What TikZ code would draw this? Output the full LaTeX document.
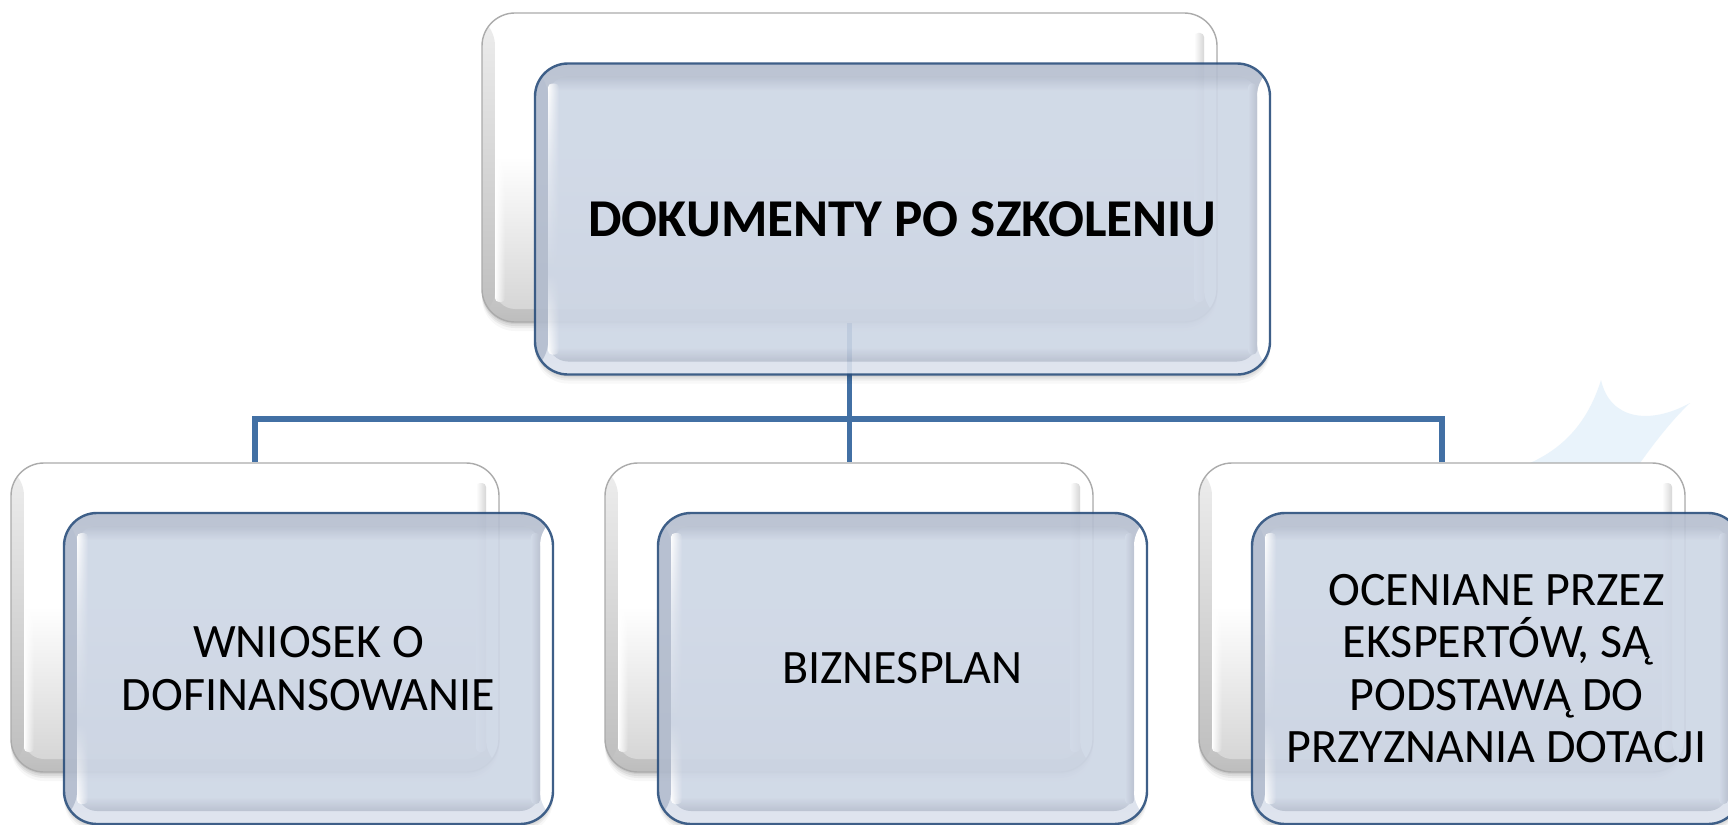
\documentclass[tikz,border=0pt]{standalone}
\usepackage{fontspec}
\setmainfont{Carlito}
\usetikzlibrary{calc,fadings}
\definecolor{connC}{HTML}{4270A4}
\definecolor{starC}{HTML}{E9F3FB}
\definecolor{frontBorder}{HTML}{2A4E7C}
\definecolor{backBorder}{HTML}{ABABAB}
\definecolor{frontFill}{HTML}{CDD6E5}
\definecolor{frontEdge}{HTML}{B0BACC}
\definecolor{frontLow}{HTML}{DDE3EE}
\definecolor{frontDark}{HTML}{B4BCCC}
\definecolor{frontTop}{HTML}{B4BDCE}
\definecolor{backLow}{HTML}{BDBDBD}
\definecolor{backIn}{HTML}{D6D6D6}
\definecolor{backEdgeTop}{HTML}{EEEEEE}
\pgfdeclareverticalshading{frontOuter}{100bp}{color(0bp)=(frontLow);color(25bp)=(frontLow);color(75bp)=(frontTop);color(100bp)=(frontTop)}
\pgfdeclareverticalshading{frontInner}{100bp}{color(0bp)=(frontDark);color(25bp)=(frontDark);color(27.5bp)=(frontFill);color(72.5bp)=(frontFill);color(75bp)=(frontTop);color(100bp)=(frontTop)}
\pgfdeclareverticalshading{frontGlow}{100bp}{color(0bp)=(white);color(25bp)=(white);color(40bp)=(frontFill);color(60bp)=(frontFill!60!white);color(75bp)=(white);color(100bp)=(white)}
\pgfdeclareverticalshading{backOuter}{100bp}{color(0bp)=(backLow);color(25bp)=(backLow);color(55bp)=(white);color(100bp)=(white)}
\pgfdeclareverticalshading{backInner}{100bp}{color(0bp)=(backIn);color(25bp)=(backIn);color(52bp)=(white);color(100bp)=(white)}
\pgfdeclarelayer{under}
\pgfsetlayers{under,main}
\tikzset{
  softshadow/.style={
    preaction={fill=black,fill opacity=.07,draw=none,transform canvas={yshift=-2pt}},
    preaction={fill=black,fill opacity=.06,draw=none,transform canvas={yshift=-4pt}},
    preaction={fill=black,fill opacity=.05,draw=none,transform canvas={yshift=-6pt}},
    preaction={fill=black,fill opacity=.03,draw=none,transform canvas={yshift=-9pt}}},
  backbox/.style={rectangle,rounded corners=33pt,inner sep=0pt,softshadow,
    draw=backBorder,line width=1.4pt,shading=backOuter,
    path picture={
      \path (path picture bounding box.north west) coordinate (A)
            (path picture bounding box.south east) coordinate (B);
      \shade[top color=backEdgeTop,bottom color=backLow] (A) rectangle ($(A|-B)+(13,0)$);
      \fill[white] ($(B|-A)+(-13,0)$) rectangle (B);
      \shade[rounded corners=20pt,shading=backInner] ($(A)+(13,13)$) rectangle ($(B)+(-13,-13)$);
      \fill[white,path fading=east,rounded corners=4pt] ($(A)+(13,20)$) rectangle ($(A|-B)+(23,-20)$);
      \shade[rounded corners=4pt,left color=white,right color=backIn] ($(B|-A)+(-23,20)$) rectangle ($(B)+(-13,-20)$);
    }},
  frontbox/.style={rectangle,rounded corners=33pt,inner sep=0pt,softshadow,
    draw=frontBorder,line width=2.4pt,shading=frontOuter,
    path picture={
      \path (path picture bounding box.north west) coordinate (A)
            (path picture bounding box.south east) coordinate (B);
      \fill[frontEdge] (A) rectangle ($(A|-B)+(13,0)$);
      \fill[white] ($(B|-A)+(-13,0)$) rectangle (B);
      \shade[rounded corners=20pt,shading=frontInner] ($(A)+(13,13)$) rectangle ($(B)+(-13,-13)$);
      \shade[shading=frontGlow,path fading=east,rounded corners=4pt] ($(A)+(13,20)$) rectangle ($(A|-B)+(24,-20)$);
      \shade[rounded corners=4pt,left color=frontFill,right color=frontDark] ($(B|-A)+(-22,20)$) rectangle ($(B)+(-13,-20)$);
    }},
  conn/.style={draw=connC,line width=5.6pt,line join=miter},
  titletext/.style={font=\fontsize{53.2}{64}\selectfont\bfseries,align=center,text=black,inner sep=0pt},
  childtext/.style={font=\fontsize{48}{52.5}\selectfont,align=center,text=black,inner sep=0pt}
}
\begin{document}
\begin{tikzpicture}[x=1pt,y=-1pt]
\useasboundingbox (0,0) rectangle (1728,824);
% back boxes
\node[backbox,minimum width=735pt,minimum height=309pt] (topback) at (849.5,167.5) {};
\node[backbox,minimum width=488pt,minimum height=309pt] (leftback) at (255,617.5) {};
\node[backbox,minimum width=488pt,minimum height=309pt] (midback) at (849,617.5) {};
\node[backbox,minimum width=486pt,minimum height=309pt] (rightback) at (1442,617.5) {};
\coordinate (bus) at (849.5,419);
\begin{pgfonlayer}{under}
  \fill[white] (0,0) rectangle (1728,824);
  \fill[starC] (1601,380) .. controls (1610,420) and (1650,425) .. (1690,403)
     .. controls (1672,420) and (1655,442) .. (1640,463) -- (1530,463)
     .. controls (1570,445) and (1590,415) .. (1601,380) -- cycle;
  \draw[conn] (topback.south) -- (bus);
  \draw[conn] (bus) -| (leftback.north);
  \draw[conn] (bus) -| (rightback.north);
  \draw[conn] (bus) -- (bus|-midback.north);
\end{pgfonlayer}
% front boxes, slightly see-through
\begin{scope}[transparency group,opacity=.9]
\node[frontbox,minimum width=735pt,minimum height=311pt] (topfront) at (902.5,219) {};
\end{scope}
\begin{scope}[transparency group,opacity=.9]
\node[frontbox,minimum width=489pt,minimum height=311pt] (leftfront) at (308.5,668.5) {};
\end{scope}
\begin{scope}[transparency group,opacity=.9]
\node[frontbox,minimum width=489pt,minimum height=311pt] (midfront) at (902.5,668.5) {};
\end{scope}
\begin{scope}[transparency group,opacity=.9]
\node[frontbox,minimum width=489pt,minimum height=311pt] (rightfront) at (1496.5,668.5) {};
\end{scope}
\node[titletext] (toptext) at (topfront.center) {DOKUMENTY PO SZKOLENIU};
\node[childtext] (lefttext) at (leftfront.center) {WNIOSEK O\\DOFINANSOWANIE};
\node[childtext] (midtext) at (midfront.center) {BIZNESPLAN};
\node[childtext] (righttext) at (rightfront.center) {OCENIANE PRZEZ\\EKSPERTÓW, SĄ\\PODSTAWĄ DO\\PRZYZNANIA DOTACJI};
\end{tikzpicture}
\end{document}
